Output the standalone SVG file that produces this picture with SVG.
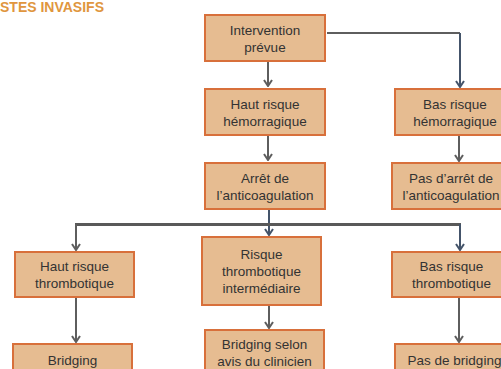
<svg xmlns="http://www.w3.org/2000/svg" width="501" height="369" viewBox="0 0 501 369">
<style>
.box{fill:#E6BC91;stroke:#D8703B;stroke-width:2}
.t{font-family:"Liberation Sans",Arial,sans-serif;font-size:13.5px;fill:#333333;text-anchor:middle}
.title{font-family:"Liberation Sans",Arial,sans-serif;font-size:14px;font-weight:bold;fill:#E0963E}
.g{fill:none;stroke:#5E5E5E;stroke-width:2}
.b{fill:none;stroke:#44546A;stroke-width:2}
</style>
<defs>
<marker id="ag" markerUnits="userSpaceOnUse" markerWidth="8" markerHeight="10" refX="7" refY="5" orient="auto" viewBox="0 0 8 10">
<path d="M1,1 L7,5 L1,9" fill="none" stroke="#5E5E5E" stroke-width="2"/>
</marker>
<marker id="ab" markerUnits="userSpaceOnUse" markerWidth="8" markerHeight="10" refX="7" refY="5" orient="auto" viewBox="0 0 8 10">
<path d="M1,1 L7,5 L1,9" fill="none" stroke="#44546A" stroke-width="2"/>
</marker>
</defs>
<text class="title" x="0" y="12">STES INVASIFS</text>
<g id="connectors">
<path class="g" d="M268,62 V86" marker-end="url(#ag)"/>
<path class="g" d="M327,33 H460"/>
<path class="b" d="M460,33 V87" marker-end="url(#ab)"/>
<path class="g" d="M268,136 V160" marker-end="url(#ag)"/>
<path class="g" d="M459,136 V161" marker-end="url(#ag)"/>
<path class="b" d="M269,210 V235" marker-end="url(#ab)"/>
<path fill="none" stroke="#595959" stroke-width="3" d="M75,224.5 H461"/>
<path class="g" d="M76,224 V250" marker-end="url(#ag)"/>
<path class="b" d="M460,224 V250" marker-end="url(#ab)"/>
<path class="g" d="M76,298 V342" marker-end="url(#ag)"/>
<path class="g" d="M269,306 V328" marker-end="url(#ag)"/>
<path class="g" d="M459,298 V342" marker-end="url(#ag)"/>
</g>
<g id="n1"><rect class="box" x="205" y="15" width="120" height="46"/><text class="t" x="265" y="34.5">Intervention</text><text class="t" x="265" y="51.5">prévue</text></g>
<g id="n2"><rect class="box" x="205" y="89" width="120" height="46"/><text class="t" x="265" y="108.5">Haut risque</text><text class="t" x="265" y="125.5">hémorragique</text></g>
<g id="n3"><rect class="box" x="395" y="89" width="120" height="46"/><text class="t" x="455" y="108.5">Bas risque</text><text class="t" x="455" y="125.5">hémorragique</text></g>
<g id="n4"><rect class="box" x="205" y="163" width="120" height="46"/><text class="t" x="265" y="182.5">Arrêt de</text><text class="t" x="265" y="199.5">l’anticoagulation</text></g>
<g id="n5"><rect class="box" x="392" y="163" width="118" height="46"/><text class="t" x="451" y="182.5">Pas d’arrêt de</text><text class="t" x="451" y="199.5">l’anticoagulation</text></g>
<g id="n6"><rect class="box" x="15" y="252" width="119" height="45"/><text class="t" x="74.5" y="271">Haut risque</text><text class="t" x="74.5" y="288">thrombotique</text></g>
<g id="n7"><rect class="box" x="202" y="237" width="119" height="68"/><text class="t" x="261.5" y="259">Risque</text><text class="t" x="261.5" y="276">thrombotique</text><text class="t" x="261.5" y="293">intermédiaire</text></g>
<g id="n8"><rect class="box" x="392" y="252" width="119" height="45"/><text class="t" x="451.5" y="271">Bas risque</text><text class="t" x="451.5" y="288">thrombotique</text></g>
<g id="n9"><rect class="box" x="13" y="344" width="119" height="40"/><text class="t" x="72.5" y="365">Bridging</text></g>
<g id="n10"><rect class="box" x="205" y="330" width="119" height="50"/><text class="t" x="264.5" y="349">Bridging selon</text><text class="t" x="264.5" y="366">avis du clinicien</text></g>
<g id="n11"><rect class="box" x="395" y="344" width="119" height="40"/><text class="t" x="454.5" y="365">Pas de bridging</text></g>
</svg>
